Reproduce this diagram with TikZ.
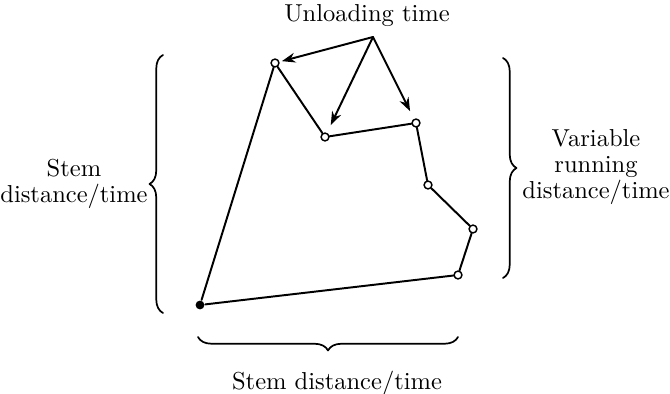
\documentclass[tikz,border=0pt]{standalone}
\usetikzlibrary{arrows.meta,decorations.pathreplacing}

\begin{document}
\begin{tikzpicture}[x=0.408pt,y=-0.408pt,line width=0.8pt,line cap=round,line join=round,
    every node/.style={font=\fontsize{10}{10.7}\selectfont},
    stop/.style={draw,circle,fill=white,inner sep=0pt,minimum size=3.2pt,line width=0.6pt},
    unload/.style={-{Stealth[length=5.5pt,width=4pt]}},
    bracepath/.style={decorate,decoration={brace,amplitude=5.5pt},line width=0.7pt}]
  \useasboundingbox (0,0) rectangle (670,394);
  % route
  \node[circle,fill,inner sep=0pt,minimum size=3.6pt] (depot) at (200,305) {};
  \foreach \n/\x/\y in {1/275/63,2/325/137,3/416/123,4/428/185,5/473/229,6/458/275}{
    \node[stop] (c\n) at (\x,\y) {};
  }
  \draw (depot)--(c1)--(c2)--(c3)--(c4)--(c5)--(c6)--(depot);
  % unloading arrows
  \coordinate (src) at (373,37);
  \draw[unload,shorten >=1pt] (src)--(c1);
  \draw[unload,shorten >=3.5pt] (src)--(c2);
  \draw[unload,shorten >=3.5pt] (src)--(c3);
  % braces
  \coordinate (lb1) at (163,313); \coordinate (lb2) at (163,55);
  \coordinate (rb1) at (503,58);  \coordinate (rb2) at (503,278);
  \coordinate (bb1) at (458,337); \coordinate (bb2) at (198,337);
  \draw[bracepath] (lb1)--(lb2);
  \draw[bracepath] (rb1)--(rb2);
  \draw[bracepath] (bb1)--(bb2);
  % labels
  \node[anchor=base] (tunload) at (367,22) {Unloading time};
  \node[anchor=base] (tstem) at (337,389) {Stem distance/time};
  \node[anchor=east,align=center,inner sep=1pt] (tleft) at (151,184) {Stem\\distance/time};
  \node[anchor=west,align=center,inner sep=1pt] (tright) at (519,167) {Variable\\running\\distance/time};
\end{tikzpicture}
\end{document}
